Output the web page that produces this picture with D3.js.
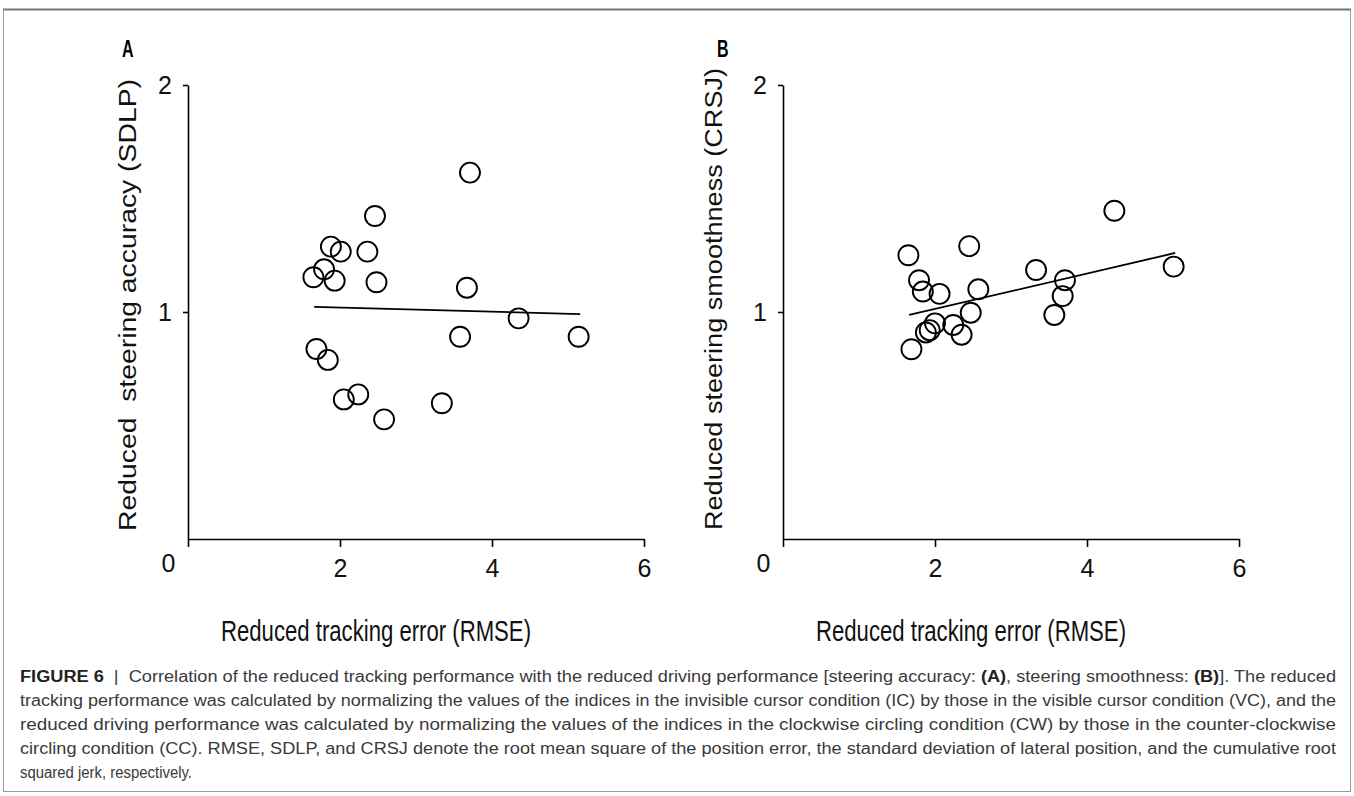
<!DOCTYPE html>
<html>
<head>
<meta charset="utf-8">
<script src="https://cdn.jsdelivr.net/npm/d3@7"></script>
<style>
body{margin:0;background:#fff;}
svg{display:block;}
text{font-family:"Liberation Sans",Arial,sans-serif;}
</style>
</head>
<body>
<svg width="1354" height="796"></svg>
<script>
var mySVG = d3.select("svg");

// panel A : reduced tracking error (RMSE) vs reduced steering accuracy (SDLP)
var rmseA = [3.71,2.46,1.88,2.01,2.36,1.79,1.65,1.93,2.48,3.67,4.35,3.58,5.14,1.69,1.84,2.24,2.05,3.34,2.58];
var sdlpA = [1.614,1.423,1.288,1.266,1.266,1.188,1.153,1.138,1.131,1.107,0.972,0.891,0.891,0.837,0.789,0.637,0.615,0.598,0.527];
var fitA = [[1.66,1.023],[5.16,0.991]];

// panel B : reduced tracking error (RMSE) vs reduced steering smoothness (CRSJ)
var rmseB = [4.36,2.45,1.65,3.33,5.14,3.71,1.79,1.84,2.06,2.57,3.68,3.57,2.47,2.00,2.24,1.93,1.88,2.35,1.69];
var crsjB = [1.446,1.29,1.25,1.185,1.20,1.14,1.14,1.09,1.08,1.10,1.07,0.987,0.997,0.95,0.943,0.92,0.91,0.90,0.836];
var fitB = [[1.66,0.987],[5.16,1.26]];

var xTicks = [0,2,4,6];
var yTicks = [1,2];
var xTitle = "Reduced tracking error (RMSE)";
var yTitleA = "Reduced  steering accuracy (SDLP)";
var yTitleB = "Reduced steering smoothness (CRSJ)";

var captionLines = [
  [["FIGURE 6",1],["  |  ",0],["Correlation of the reduced tracking performance with the reduced driving performance [steering accuracy: ",0],["(A)",1],[", steering smoothness: ",0],["(B)",1],["]. The reduced",0]],
  [["tracking performance was calculated by normalizing the values of the indices in the invisible cursor condition (IC) by those in the visible cursor condition (VC), and the",0]],
  [["reduced driving performance was calculated by normalizing the values of the indices in the clockwise circling condition (CW) by those in the counter-clockwise",0]],
  [["circling condition (CC). RMSE, SDLP, and CRSJ denote the root mean square of the position error, the standard deviation of lateral position, and the cumulative root",0]],
  [["squared jerk, respectively.",0]]
];

// frame round figure + caption
mySVG.append("rect").attr("x",3.5).attr("y",9.5).attr("width",1347).attr("height",782)
  .attr("fill","none").attr("stroke","#9a9a9a").attr("stroke-width",1);
mySVG.append("line").attr("x1",3).attr("x2",1351).attr("y1",9.5).attr("y2",9.5)
  .attr("stroke","#777").attr("stroke-width",2);

function drawPanel(left, letter, xs, ys, fit, yTitle, yLen, titleX, titleY){
  var x = d3.scaleLinear().domain([0,6]).range([left, left+456]);
  var y = d3.scaleLinear().domain([0,2]).range([539, 85]);
  var g = mySVG.append("g");

  var xa = g.append("g").attr("transform","translate(0,539)")
    .call(d3.axisBottom(x).tickValues(xTicks).tickFormat(d3.format("d"))
      .tickSize(8).tickSizeOuter(0).tickPadding(12));
  var ya = g.append("g").attr("transform","translate("+left+",0)")
    .call(d3.axisLeft(y).tickValues(yTicks).tickFormat(d3.format("d"))
      .tickSize(5).tickSizeOuter(0).tickPadding(11));
  g.selectAll(".domain").attr("stroke","#000").attr("stroke-width",1.6);
  g.selectAll(".tick line").attr("stroke","#000").attr("stroke-width",1.6);
  g.selectAll(".tick text").attr("font-size",25).attr("fill","#111")
    .style("font-family","'Liberation Sans',Arial,sans-serif");
  // origin label sits left of the corner
  xa.selectAll(".tick text").filter(function(d){return d==0;})
    .attr("dx",-20).attr("y",15);

  // regression line
  g.append("line")
    .attr("x1",x(fit[0][0])).attr("y1",y(fit[0][1]))
    .attr("x2",x(fit[1][0])).attr("y2",y(fit[1][1]))
    .attr("stroke","#000").attr("stroke-width",1.8);

  var pts = xs.map(function(v,i){return {x:v, y:ys[i]};});
  g.selectAll("circle.pt").data(pts).enter()
    .append("circle")
    .attr("class","pt")
    .attr("cx",function(d){return x(d.x);})
    .attr("cy",function(d){return y(d.y);})
    .attr("r",10)
    .attr("fill","none")
    .attr("stroke","#000")
    .attr("stroke-width",1.9);

  // x title (figure is stretched vertically)
  g.append("text")
    .attr("transform","translate("+(x(0)+188)+",641) scale(1,1.38)")
    .attr("text-anchor","middle").attr("font-size",22).attr("fill","#111")
    .attr("textLength",310).attr("lengthAdjust","spacingAndGlyphs")
    .text(xTitle);

  g.append("text")
    .attr("transform","translate("+titleX+","+titleY+") rotate(-90)")
    .attr("text-anchor","middle").attr("font-size",23).attr("fill","#111")
    .style("white-space","pre")
    .attr("textLength",yLen).attr("lengthAdjust","spacingAndGlyphs")
    .text(yTitle);

  g.append("text")
    .attr("transform","translate("+(left-66)+",57) scale(1,1.45)")
    .attr("font-size",16).attr("font-weight","bold").attr("fill","#000")
    .text(letter);
}

drawPanel(188, "A", rmseA, sdlpA, fitA, yTitleA, 452, 136, 305);
drawPanel(783, "B", rmseB, crsjB, fitB, yTitleB, 462, 722, 299);

// caption: first four lines justified to the full width
var capG = mySVG.append("g");
captionLines.forEach(function(line, i){
  var t = capG.append("text")
    .attr("x",20).attr("y",682+i*24)
    .attr("font-size",16).attr("fill","#3a3a3a")
    .style("white-space","pre")
    .attr("lengthAdjust","spacingAndGlyphs")
    .attr("textLength", i<4 ? 1316 : 172);
  line.forEach(function(part){
    t.append("tspan").text(part[0])
      .attr("font-weight", part[1] ? "bold" : "normal")
      .attr("fill", part[1] ? "#222" : "#3a3a3a");
  });
});
</script>
</body>
</html>
